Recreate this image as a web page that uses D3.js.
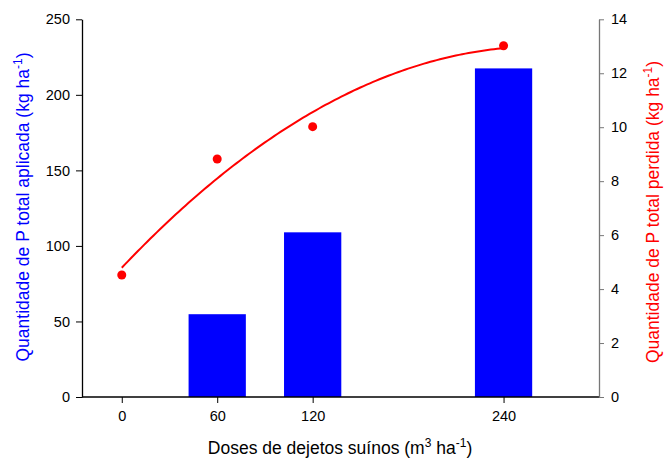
<!DOCTYPE html>
<html><head><meta charset="utf-8">
<script src="https://cdn.jsdelivr.net/npm/d3@7"></script>
<style>body{margin:0;background:#fff}svg{display:block;font-family:"Liberation Sans",Arial,sans-serif}</style>
</head><body><svg id="c" width="672" height="462"></svg>
<script>
const doses = [60, 120, 240];
const applied = [54.8, 109, 217.5];
const lossDoses = [0, 60, 120, 240];
const lost = [4.52, 8.82, 10.02, 13.02];
const xTicks = [0, 60, 120, 240];
const leftTicks = [0, 50, 100, 150, 200, 250];
const rightTicks = [0, 2, 4, 6, 8, 10, 12, 14];

const svg = d3.select("#c");
const L = 82, R = 599, T = 19.3, B = 397;
const x = d3.scaleLinear().domain([-25, 300]).range([L, R]);
const yL = d3.scaleLinear().domain([0, 250]).range([B, T]);
const yR = d3.scaleLinear().domain([0, 14]).range([B, T]);
const barHalf = 18;

// bars
svg.selectAll("rect.bar").data(doses).enter().append("rect")
  .attr("x", d => x(d - barHalf)).attr("width", d => x(d + barHalf) - x(d - barHalf))
  .attr("y", (d, i) => yL(applied[i])).attr("height", (d, i) => yL(0) - yL(applied[i]))
  .attr("fill", "#0000ff");

// quadratic regression of lost vs dose
function quadFit(xs, ys) {
  let s = [0,0,0,0,0], t = [0,0,0];
  xs.forEach((xv, i) => { for (let k = 0; k < 5; k++) s[k] += Math.pow(xv, k); for (let k = 0; k < 3; k++) t[k] += Math.pow(xv, k) * ys[i]; });
  const M = [[s[0], s[1], s[2], t[0]], [s[1], s[2], s[3], t[1]], [s[2], s[3], s[4], t[2]]];
  for (let i = 0; i < 3; i++) {
    for (let j = i + 1; j < 3; j++) { const f = M[j][i] / M[i][i]; for (let k = i; k < 4; k++) M[j][k] -= f * M[i][k]; }
  }
  const c = [0,0,0];
  for (let i = 2; i >= 0; i--) { let v = M[i][3]; for (let k = i + 1; k < 3; k++) v -= M[i][k] * c[k]; c[i] = v / M[i][i]; }
  return c;
}
const coef = quadFit(lossDoses, lost);
const curve = d3.range(0, 240.01, 2).map(d => [d, coef[0] + coef[1] * d + coef[2] * d * d]);
svg.append("path").datum(curve)
  .attr("d", d3.line().x(d => x(d[0])).y(d => yR(d[1])))
  .attr("fill", "none").attr("stroke", "#ff0000").attr("stroke-width", 2);

svg.selectAll("circle.pt").data(lossDoses).enter().append("circle")
  .attr("cx", d => x(d)).attr("cy", (d, i) => yR(lost[i])).attr("r", 4.5).attr("fill", "#ff0000");

// axes
const gx = svg.append("g").attr("transform", `translate(0,${B})`)
  .call(d3.axisBottom(x).tickValues(xTicks).tickSize(6).tickPadding(8).tickSizeOuter(0));
const gl = svg.append("g").attr("transform", `translate(${L},0)`)
  .call(d3.axisLeft(yL).tickValues(leftTicks).tickSize(6).tickPadding(6).tickSizeOuter(0));
const gr = svg.append("g").attr("transform", `translate(${R},0)`)
  .call(d3.axisRight(yR).tickValues(rightTicks).tickSize(5).tickPadding(7).tickSizeOuter(0));
[gx, gl, gr].forEach(g => { g.selectAll("text").attr("font-size", 14.5).attr("fill", "#000").attr("font-family", "Liberation Sans, Arial, sans-serif"); g.select(".domain").attr("stroke-width", 1.3); });
gr.select(".domain").attr("stroke", "#777");
gr.selectAll(".tick line").attr("stroke", "#777");
gx.select(".domain").attr("d", `M${L},0H${R}`);

// titles
function title(color, xPos, yPos, rot) {
  return svg.append("text").attr("font-size", 17.5).attr("fill", color).attr("text-anchor", "middle")
    .attr("transform", `translate(${xPos},${yPos}) rotate(${rot})`);
}
const tx = title("#000", 340, 454, 0);
tx.append("tspan").text("Doses de dejetos suínos (m");
tx.append("tspan").text("3").attr("font-size", 12).attr("dy", -7);
tx.append("tspan").text(" ha").attr("dy", 7);
tx.append("tspan").text("-1").attr("font-size", 12).attr("dy", -7);
tx.append("tspan").text(")").attr("dy", 7);

const tl = title("#0000ff", 29, 207, -90);
tl.append("tspan").text("Quantidade de P total aplicada (kg ha");
tl.append("tspan").text("-1").attr("font-size", 12).attr("dy", -7);
tl.append("tspan").text(")").attr("dy", 7);

const tr = title("#ff0000", 659, 212, -90);
tr.append("tspan").text("Quantidade de P total perdida (kg ha");
tr.append("tspan").text("-1").attr("font-size", 12).attr("dy", -7);
tr.append("tspan").text(")").attr("dy", 7);
</script></body></html>
